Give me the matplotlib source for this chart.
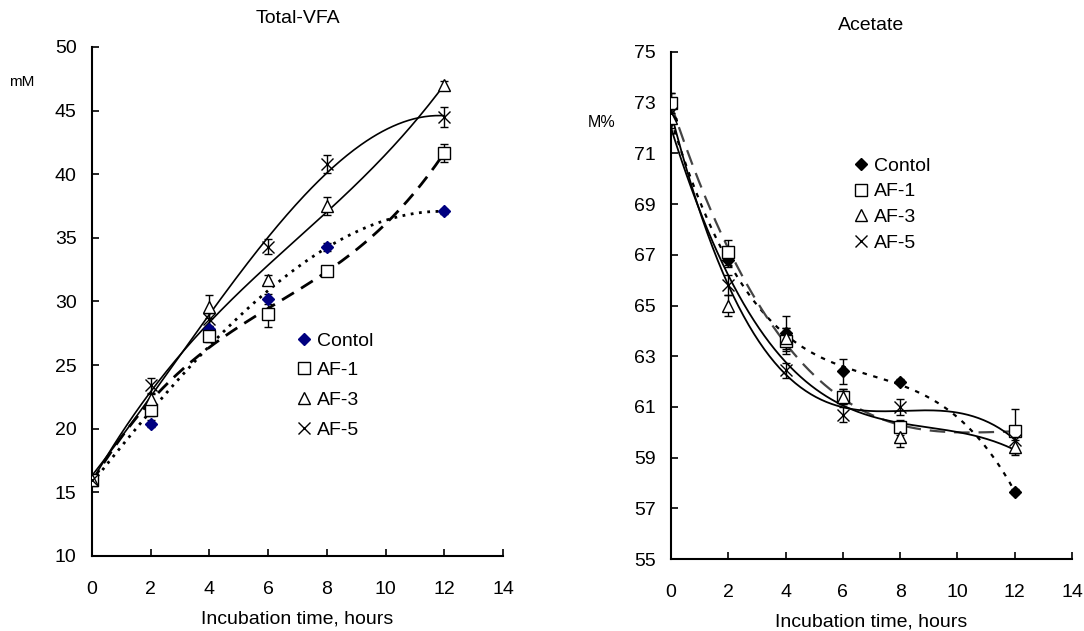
import numpy as np
import matplotlib
matplotlib.use("Agg")
import matplotlib.pyplot as plt

plt.rcParams["font.family"] = ["Liberation Sans", "DejaVu Sans"]
plt.rcParams["font.size"] = 14

hours = [0, 2, 4, 6, 8, 12]
names = ["Contol", "AF-1", "AF-3", "AF-5"]

# Total-VFA, mM
vfa_control = [16.0, 20.4, 27.8, 30.2, 34.3, 37.1]
vfa_af1 = [16.0, 21.5, 27.3, 29.0, 32.4, 41.7]
vfa_af3 = [16.0, 22.3, 29.6, 31.7, 37.5, 47.0]
vfa_af5 = [16.0, 23.4, 28.6, 34.3, 40.8, 44.5]
vfa_control_err = [0, 0.3, 0.3, 0.4, 0.3, 0.2]
vfa_af1_err = [0, 0.5, 0.5, 1.0, 0.3, 0.7]
vfa_af3_err = [0, 0.4, 0.9, 0.4, 0.7, 0.3]
vfa_af5_err = [0, 0.6, 0.5, 0.6, 0.7, 0.8]

# Acetate, M%
ac_control = [72.3, 66.8, 63.9, 62.4, 62.0, 57.65]
ac_af1 = [73.0, 67.1, 63.6, 61.4, 60.2, 60.05]
ac_af3 = [72.4, 65.0, 63.7, 61.4, 59.8, 59.4]
ac_af5 = [72.6, 65.8, 62.45, 60.7, 61.0, 59.7]
ac_control_err = [0.5, 0.3, 0.7, 0.5, 0.1, 0.1]
ac_af1_err = [0.4, 0.5, 0.5, 0.3, 0.3, 0.85]
ac_af3_err = [0.4, 0.4, 0.4, 0.3, 0.4, 0.3]
ac_af5_err = [0.8, 0.4, 0.3, 0.3, 0.3, 0.5]


def draw_panel(ax, series, errs, control_color, line_styles):
    markers = ["D", "s", "^", "x"]
    sizes = [6.5, 8, 8, 9]
    xs = np.linspace(0, 12, 200)
    for i in range(4):
        y = series[i]
        fit = np.polyfit(hours, y, 3)
        ls, lw, lc = line_styles[i]
        ax.plot(xs, np.polyval(fit, xs), linestyle=ls, lw=lw, color=lc, zorder=2)
        ax.errorbar(hours, y, yerr=errs[i], fmt="none", ecolor="black",
                    elinewidth=1, capsize=3, capthick=1, zorder=3)
        if i == 0:
            ax.plot(hours, y, linestyle="none", marker="D", ms=sizes[i],
                    mfc=control_color, mec=control_color, label=names[i], zorder=4)
        elif markers[i] == "x":
            ax.plot(hours, y, linestyle="none", marker="x", ms=sizes[i],
                    mec="black", mew=1, label=names[i], zorder=4)
        else:
            ax.plot(hours, y, linestyle="none", marker=markers[i], ms=sizes[i],
                    mfc="white", mec="black", mew=1, label=names[i], zorder=4)
    ax.spines["top"].set_visible(False)
    ax.spines["right"].set_visible(False)
    ax.spines["left"].set_linewidth(1.5)
    ax.spines["bottom"].set_linewidth(1.5)
    ax.tick_params(direction="in", length=5, width=1.2, labelsize=14)
    ax.tick_params(axis="x", pad=18)
    ax.tick_params(axis="y", pad=11)
    ax.set_xlim(0, 14)
    ax.set_xticks(range(0, 15, 2))
    ax.set_xlabel("Incubation time, hours", fontsize=14, labelpad=9)


fig = plt.figure(figsize=(10.84, 6.31), dpi=100)
ax1 = fig.add_axes([92 / 1084, 1 - 556 / 631, 411 / 1084, 509 / 631])
ax2 = fig.add_axes([671 / 1084, 1 - 559 / 631, 401 / 1084, 507 / 631])

left_styles = [((0, (1, 2)), 2.0, "black"),
               ((0, (5, 3)), 2.0, "black"),
               ("-", 1.2, "black"),
               ("-", 1.2, "black")]
draw_panel(ax1, [vfa_control, vfa_af1, vfa_af3, vfa_af5],
           [vfa_control_err, vfa_af1_err, vfa_af3_err, vfa_af5_err],
           "#000080", left_styles)
ax1.set_ylim(10, 50)
ax1.set_yticks(range(10, 51, 5))
ax1.set_title("Total-VFA", fontsize=14, pad=17)
fig.text(9 / 1084, 1 - 82 / 631, "mM", fontsize=11, va="center")
ax1.legend(loc="upper left", bbox_to_anchor=(296 / 1084, 1 - 332 / 631),
           bbox_transform=fig.transFigure, frameon=False, borderpad=0,
           borderaxespad=0, handlelength=0.8, handletextpad=0.3,
           labelspacing=0.62, fontsize=14)

right_styles = [((0, (2, 3)), 1.6, "black"),
                ((0, (7, 4)), 1.6, "#444444"),
                ("-", 1.3, "black"),
                ("-", 1.3, "black")]
draw_panel(ax2, [ac_control, ac_af1, ac_af3, ac_af5],
           [ac_control_err, ac_af1_err, ac_af3_err, ac_af5_err],
           "black", right_styles)
ax2.set_ylim(55, 75)
ax2.set_yticks(range(55, 76, 2))
ax2.set_title("Acetate", fontsize=14, pad=16)
fig.text(588 / 1084, 1 - 122 / 631, "M%", fontsize=11.5, va="center")
ax2.legend(loc="upper left", bbox_to_anchor=(853 / 1084, 1 - 157 / 631),
           bbox_transform=fig.transFigure, frameon=False, borderpad=0,
           borderaxespad=0, handlelength=0.8, handletextpad=0.3,
           labelspacing=0.42, fontsize=14)

fig.savefig("out.png", dpi=100)
